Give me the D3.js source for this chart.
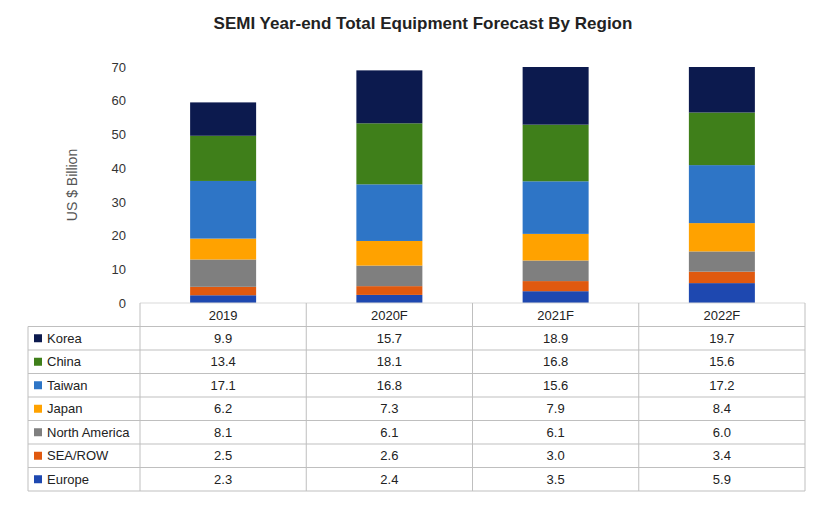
<!DOCTYPE html><html><head><meta charset="utf-8">
<script src="https://d3js.org/d3.v7.min.js"></script>
<style>body{margin:0;background:#fff}</style></head><body>
<script>
const categories=["2019","2020F","2021F","2022F"];
const regions=["Korea","China","Taiwan","Japan","North America","SEA/ROW","Europe"];
const korea=[9.9,15.7,18.9,19.7];
const china=[13.4,18.1,16.8,15.6];
const taiwan=[17.1,16.8,15.6,17.2];
const japan=[6.2,7.3,7.9,8.4];
const northAmerica=[8.1,6.1,6.1,6.0];
const seaRow=[2.5,2.6,3.0,3.4];
const europe=[2.3,2.4,3.5,5.9];
const yTicks=[0,10,20,30,40,50,60,70];
const series=[korea,china,taiwan,japan,northAmerica,seaRow,europe];
const colors=["#0c1a4e","#3f7f1a","#2e75c6","#ffa200","#7f7f7f","#e0590f","#1e48b0"];

const W=826,H=514,x0=140,x1=805,yTop=67,yBot=303,rowH=23.5,tableLeft=28;
const svg=d3.select("body").append("svg").attr("width",W).attr("height",H).style("font-family","Arial, Liberation Sans, sans-serif");
svg.append("text").attr("x",423).attr("y",29).attr("text-anchor","middle").attr("font-size",17).attr("font-weight","bold").attr("fill","#222").text("SEMI Year-end Total Equipment Forecast By Region");
const x=d3.scaleBand().domain(categories).range([x0,x1]);
const y=d3.scaleLinear().domain([0,70]).range([yBot,yTop]);
svg.append("defs").append("clipPath").attr("id","c").append("rect").attr("x",x0).attr("y",yTop).attr("width",x1-x0).attr("height",yBot-yTop);
const g=svg.append("g").attr("clip-path","url(#c)");
const bw=66;
categories.forEach((c,i)=>{
  let cum=0;
  for(let s=series.length-1;s>=0;s--){
    const v=series[s][i];
    g.append("rect").attr("x",x(c)+x.bandwidth()/2-bw/2).attr("width",bw).attr("y",y(cum+v)).attr("height",y(cum)-y(cum+v)).attr("fill",colors[s]);
    cum+=v;
  }
});
const ax=svg.append("g").attr("transform",`translate(${x0},0)`).call(d3.axisLeft(y).tickValues(yTicks).tickSize(0).tickPadding(14));
ax.select(".domain").remove();
ax.selectAll("text").attr("font-size",13).attr("fill","#333").attr("font-family","Arial, Liberation Sans, sans-serif");
svg.append("text").attr("transform","translate(77,185) rotate(-90)").attr("text-anchor","middle").attr("font-size",14).attr("fill","#555").text("US $ Billion");
// table
const tb=svg.append("g").attr("stroke","#bfbfbf").attr("fill","none");
const tEnd=yBot+rowH*(regions.length+1);
tb.append("line").attr("x1",x0).attr("x2",x1).attr("y1",yBot).attr("y2",yBot).attr("stroke","#d9d9d9");
for(let r=1;r<=regions.length+1;r++){
  const yy=yBot+rowH*r;
  tb.append("line").attr("x1",tableLeft).attr("x2",x1).attr("y1",yy).attr("y2",yy);
}
tb.append("line").attr("x1",tableLeft).attr("x2",tableLeft).attr("y1",yBot+rowH).attr("y2",tEnd);
[x0,...categories.map(c=>x(c)+x.bandwidth())].forEach(xx=>tb.append("line").attr("x1",xx).attr("x2",xx).attr("y1",yBot).attr("y2",tEnd));
categories.forEach(c=>svg.append("text").attr("x",x(c)+x.bandwidth()/2).attr("y",yBot+rowH/2+5).attr("text-anchor","middle").attr("font-size",13).attr("fill","#222").text(c));
regions.forEach((r,s)=>{
  const cy=yBot+rowH*(s+1)+rowH/2;
  svg.append("rect").attr("x",tableLeft+6).attr("y",cy-4).attr("width",8).attr("height",8).attr("fill",colors[s]);
  svg.append("text").attr("x",tableLeft+19).attr("y",cy+4.5).attr("font-size",13).attr("fill","#222").text(r);
  categories.forEach((c,i)=>svg.append("text").attr("x",x(c)+x.bandwidth()/2).attr("y",cy+4.5).attr("text-anchor","middle").attr("font-size",13).attr("fill","#222").text(series[s][i].toFixed(1)));
});
</script></body></html>
